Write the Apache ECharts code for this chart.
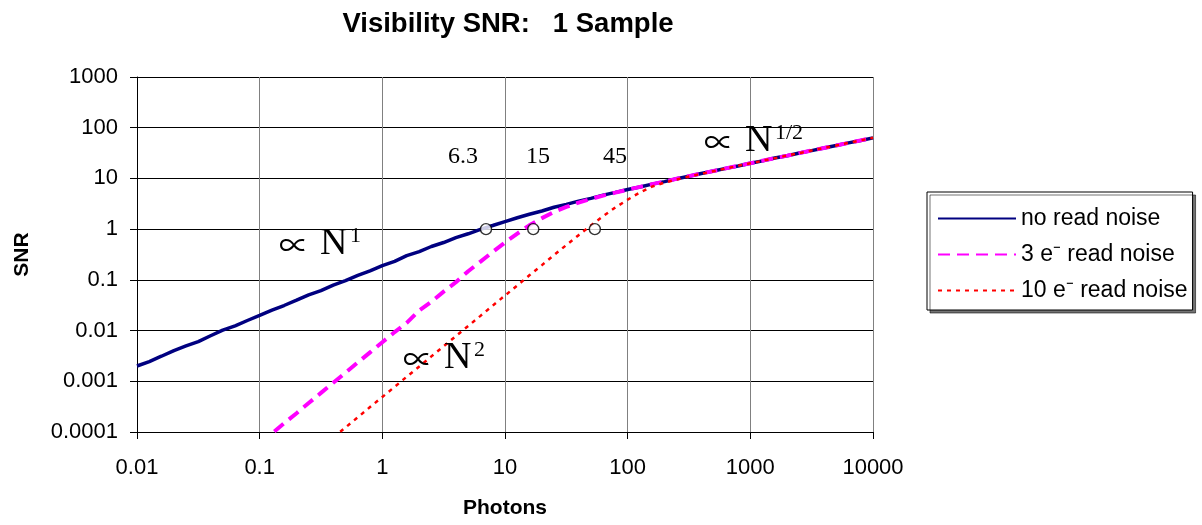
<!DOCTYPE html>
<html><head><meta charset="utf-8">
<script src="https://cdn.jsdelivr.net/npm/echarts@6/dist/echarts.min.js"></script>
<style>html,body{margin:0;padding:0;background:#fff}#c{width:1202px;height:525px}</style>
</head><body><div id="c"></div>
<script>
// ---- data ----
const photons = [0.01, 0.0126, 0.0158, 0.02, 0.0251, 0.0316, 0.0398, 0.05, 0.0631, 0.0794,
  0.1, 0.126, 0.158, 0.2, 0.251, 0.316, 0.398, 0.501, 0.631, 0.794,
  1, 1.26, 1.58, 2, 2.51, 3.16, 3.98, 5.01, 6.31, 7.94,
  10, 12.6, 15.8, 20, 25.1, 31.6, 39.8, 50.1, 63.1, 79.4,
  100, 126, 158, 200, 251, 316, 398, 501, 631, 794,
  1000, 1260, 1580, 2000, 2510, 3160, 3980, 5010, 6310, 7940, 10000];
const noReadNoise = [0.00200, 0.00245, 0.00312, 0.00404, 0.00497, 0.00605, 0.00790, 0.0102, 0.0124, 0.0158,
  0.0199, 0.0252, 0.0312, 0.0397, 0.0505, 0.0615, 0.0790, 0.0965, 0.122, 0.150,
  0.191, 0.232, 0.300, 0.360, 0.455, 0.545, 0.680, 0.810, 0.990, 1.18,
  1.41, 1.68, 1.97, 2.28, 2.70, 3.08, 3.57, 4.05, 4.68, 5.30,
  6.03, 6.80, 7.72, 8.65, 9.85, 11.0, 12.5, 14.0, 15.8, 17.6,
  19.9, 22.2, 25.2, 28.0, 31.7, 35.3, 39.9, 44.5, 50.2, 56.0, 63.0];
const readNoise3 = [null, null, null, null, null, null, null, null, null, null,
  0.0000590, 0.0000936, 0.000148, 0.000235, 0.000372, 0.000590, 0.000936, 0.00148, 0.00235, 0.00372,
  0.00590, 0.00935, 0.0142, 0.0250, 0.0371, 0.0587, 0.0900, 0.148, 0.229, 0.355,
  0.545, 0.817, 1.19, 1.65, 2.18, 2.74, 3.33, 3.94, 4.58, 5.26,
  6.00, 6.81, 7.71, 8.71, 9.83, 11.1, 12.5, 14.0, 15.8, 17.7,
  19.9, 22.4, 25.1, 28.2, 31.6, 35.5, 39.9, 44.7, 50.2, 56.3, 63.2];
const readNoise10 = [null, null, null, null, null, null, null, null, null, null,
  null, null, null, null, null, null, 0.0000778, 0.000123, 0.000195, 0.000310,
  0.000491, 0.000778, 0.00123, 0.00195, 0.00310, 0.00491, 0.00778, 0.0123, 0.0195, 0.0310,
  0.0491, 0.0777, 0.123, 0.195, 0.308, 0.485, 0.760, 1.18, 1.80, 2.68,
  3.81, 5.30, 6.90, 8.30, 9.50, 10.9, 12.3, 13.9, 15.7, 17.7,
  19.9, 22.3, 25.1, 28.2, 31.6, 35.5, 39.9, 44.7, 50.2, 56.3, 63.2];
const seriesNames = ['no read noise', '3 e\u207B read noise', '10 e\u207B read noise'];
const crossingN = [7, 17, 54];
const crossingSNR = [1, 1, 1];
const xTickLabels = ['0.01', '0.1', '1', '10', '100', '1000', '10000'];
const yTickLabels = ['0.0001', '0.001', '0.01', '0.1', '1', '10', '100', '1000'];
const crossingLabels = ['6.3', '15', '45'];
const crossingLabelAt = [[4.55, 26.4], [18.6, 26.4], [78.8, 26.4]];
const powerLawExp = ['1', '2', '1/2'];
const powerLawAt = [[0.31, 0.509], [3.18, 0.00288], [904, 54.7]];
// ------------------------------------------------

function pairs(ys) {
  const out = [];
  photons.forEach((x, i) => { if (ys[i] != null) out.push([x, ys[i]]); });
  return out;
}

const chart = echarts.init(document.getElementById('c'), null, {renderer: 'canvas'});
const sans = 'Liberation Sans, Arial, sans-serif';
const serif = '"Liberation Serif", "Times New Roman", "DejaVu Serif", serif';

chart.setOption({
  animation: false,
  backgroundColor: '#fff',
  title: {
    text: 'Visibility SNR:   1 Sample',
    left: 508, top: 10, textAlign: 'center', padding: 0,
    textStyle: {fontSize: 27.5, fontWeight: 'bold', fontFamily: sans, color: '#000'}
  },
  grid: {left: 137, right: 329, top: 77, bottom: 93, containLabel: false},
  legend: {
    orient: 'vertical', left: 927, top: 192,
    padding: [15, 5, 8, 10], itemGap: 13, itemWidth: 78, itemHeight: 14,
    backgroundColor: '#fff', borderColor: '#000', borderWidth: 1,
    shadowColor: 'rgba(0,0,0,0.55)', shadowOffsetX: 3, shadowOffsetY: 3, shadowBlur: 0,
    itemStyle: {color: 'rgba(0,0,0,0)', borderWidth: 0, opacity: 0},
    textStyle: {fontSize: 23, fontFamily: sans, color: '#000'},
    data: seriesNames
  },
  xAxis: {
    type: 'log', logBase: 10, min: 0.01, max: 10000,
    name: 'Photons', nameLocation: 'middle', nameGap: 66,
    nameTextStyle: {fontSize: 21, fontWeight: 'bold', fontFamily: sans, color: '#000'},
    axisLine: {show: true, lineStyle: {color: '#000', width: 1}},
    axisTick: {show: true, inside: false, length: 7, lineStyle: {color: '#000'}},
    axisLabel: {
      margin: 25, fontSize: 22, fontFamily: sans, color: '#000',
      formatter: v => xTickLabels[Math.round(Math.log10(v)) + 2]
    },
    splitLine: {show: true, lineStyle: {color: '#808080', width: 1}},
    minorTick: {show: false}
  },
  yAxis: {
    type: 'log', logBase: 10, min: 0.0001, max: 1000,
    name: 'SNR', nameLocation: 'middle', nameGap: 104,
    nameTextStyle: {fontSize: 21, fontWeight: 'bold', fontFamily: sans, color: '#000'},
    axisLine: {show: true, lineStyle: {color: '#000', width: 1}},
    axisTick: {show: true, inside: false, length: 7, lineStyle: {color: '#000'}},
    axisLabel: {
      margin: 19, fontSize: 22, fontFamily: sans, color: '#000',
      formatter: v => yTickLabels[Math.round(Math.log10(v)) + 4]
    },
    splitLine: {show: true, lineStyle: {color: '#000', width: 1}}
  },
  series: [
    {name: seriesNames[0], type: 'line', data: pairs(noReadNoise), showSymbol: false, symbol: 'none',
     lineStyle: {color: '#000080', width: 3.5, type: 'solid'}, itemStyle: {color: '#000080'}, z: 2},
    {name: seriesNames[1], type: 'line', data: pairs(readNoise3), showSymbol: false, symbol: 'none',
     lineStyle: {color: '#FF00FF', width: 4, type: [12, 7]}, itemStyle: {color: '#FF00FF'}, z: 3},
    {name: seriesNames[2], type: 'line', data: pairs(readNoise10), showSymbol: false, symbol: 'none',
     lineStyle: {color: '#FF0000', width: 2.5, type: [4, 5]}, itemStyle: {color: '#FF0000'}, z: 4},
    {name: 'crossings', type: 'scatter', data: crossingN.map((n, i) => [n, crossingSNR[i]]),
     symbol: 'circle', symbolSize: 11, z: 6,
     itemStyle: {color: '#fff', borderColor: '#000', borderWidth: 1.4}}
  ]
});

const g = [];
crossingLabels.forEach((t, i) => {
  const p = chart.convertToPixel({gridIndex: 0}, crossingLabelAt[i]);
  g.push({type: 'text', x: p[0], y: p[1], z: 10,
    style: {text: t, font: '24px ' + serif, fill: '#000', align: 'center', verticalAlign: 'middle',
            textAlign: 'center', textVerticalAlign: 'middle'}});
});
powerLawExp.forEach((e, i) => {
  const p = chart.convertToPixel({gridIndex: 0}, powerLawAt[i]);
  g.push({type: 'text', x: p[0] - 41, y: p[1] + 1, z: 10,
    style: {text: '\u221D', font: '30px "Noto Sans CJK JP", "DejaVu Sans", sans-serif', fill: '#000',
            align: 'left', verticalAlign: 'middle', textAlign: 'left', textVerticalAlign: 'middle'}});
  g.push({type: 'text', x: p[0], y: p[1], z: 10,
    style: {text: 'N', font: '38px ' + serif, fill: '#000', align: 'left', verticalAlign: 'middle',
            textAlign: 'left', textVerticalAlign: 'middle'}});
  g.push({type: 'text', x: p[0] + 30, y: p[1] - 8, z: 10,
    style: {text: e, font: '22px ' + serif, fill: '#000', align: 'left', verticalAlign: 'middle',
            textAlign: 'left', textVerticalAlign: 'middle'}});
});
chart.setOption({graphic: g});
</script>
</body></html>
